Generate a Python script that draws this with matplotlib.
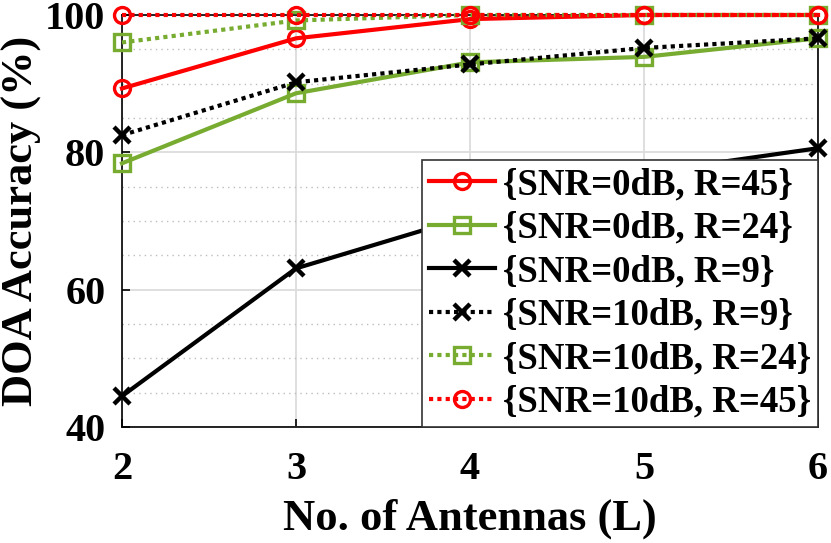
import matplotlib
matplotlib.use("Agg")
import matplotlib.pyplot as plt
from matplotlib.ticker import MultipleLocator

antennas = [2, 3, 4, 5, 6]
snr0_r45 = [89.3, 96.6, 99.4, 100.0, 100.0]
snr0_r24 = [78.4, 88.6, 93.1, 93.9, 96.6]
snr0_r9 = [44.5, 63.1, 70.7, 77.0, 80.6]
snr10_r9 = [82.5, 90.2, 92.8, 95.2, 96.6]
snr10_r24 = [96.0, 99.2, 100.0, 100.0, 100.0]
snr10_r45 = [100.0, 100.0, 100.0, 100.0, 100.0]
labels = ["{SNR=0dB, R=45}", "{SNR=0dB, R=24}", "{SNR=0dB, R=9}",
          "{SNR=10dB, R=9}", "{SNR=10dB, R=24}", "{SNR=10dB, R=45}"]

plt.rcParams['font.family'] = ['Liberation Serif', 'DejaVu Serif']
plt.rcParams['font.weight'] = 'bold'

RED = '#FF0000'
GREEN = '#77AC30'
BLACK = '#000000'
dot = (0, (1, 1))

fig = plt.figure(figsize=(8.31, 5.43), dpi=100)
ax = fig.add_axes([0.1468, 0.2136, 0.8376, 0.7588])

series = [
    (snr0_r45, RED, '-', 'o'),
    (snr0_r24, GREEN, '-', 's'),
    (snr0_r9, BLACK, '-', 'x'),
    (snr10_r9, BLACK, dot, 'x'),
    (snr10_r24, GREEN, dot, 's'),
    (snr10_r45, RED, dot, 'o'),
]
for (vals, c, ls, m), lab in zip(series, labels):
    ax.plot(antennas, vals, color=c, linestyle=ls, linewidth=3, marker=m,
            markersize=11.5, markeredgewidth=2.4 if m != 'x' else 3.2,
            markerfacecolor='none', markeredgecolor=c, label=lab,
            dash_capstyle='butt', clip_on=False, zorder=3)

ax.set_xlim(2, 6)
ax.set_ylim(40, 100)
ax.set_xticks(antennas)
ax.set_yticks([40, 60, 80, 100])
ax.yaxis.set_minor_locator(MultipleLocator(5))
ax.grid(True, which='major', color='#dcdcdc', linewidth=1.3, linestyle='-')
ax.grid(True, which='minor', axis='y', color='#bdbdbd', linewidth=1.0, linestyle=(0, (1, 3)))
ax.set_axisbelow(True)
ax.tick_params(axis='both', which='major', direction='in', labelsize=29, length=6, width=1.2)
ax.tick_params(axis='x', which='major', pad=17)
ax.tick_params(axis='y', which='major', pad=12)
ax.tick_params(axis='y', which='minor', length=0)
for lab in ax.get_xticklabels() + ax.get_yticklabels():
    lab.set_fontweight('bold')
for s in ax.spines.values():
    s.set_linewidth(1.2)

ax.set_xlabel('No. of Antennas (L)', fontsize=32, fontweight='bold', labelpad=8)
ax.set_ylabel('DOA Accuracy (%)', fontsize=32, fontweight='bold', labelpad=2)

leg = ax.legend(loc='lower right', frameon=True, fancybox=False,
                framealpha=1, edgecolor='#333333', borderaxespad=0,
                handlelength=1.8, handletextpad=0.2, labelspacing=0.23,
                borderpad=0.2, prop={'weight': 'bold', 'size': 26.5})
leg.get_frame().set_linewidth(1.2)
leg.set_zorder(10)

fig.savefig('out.png', dpi=100)
